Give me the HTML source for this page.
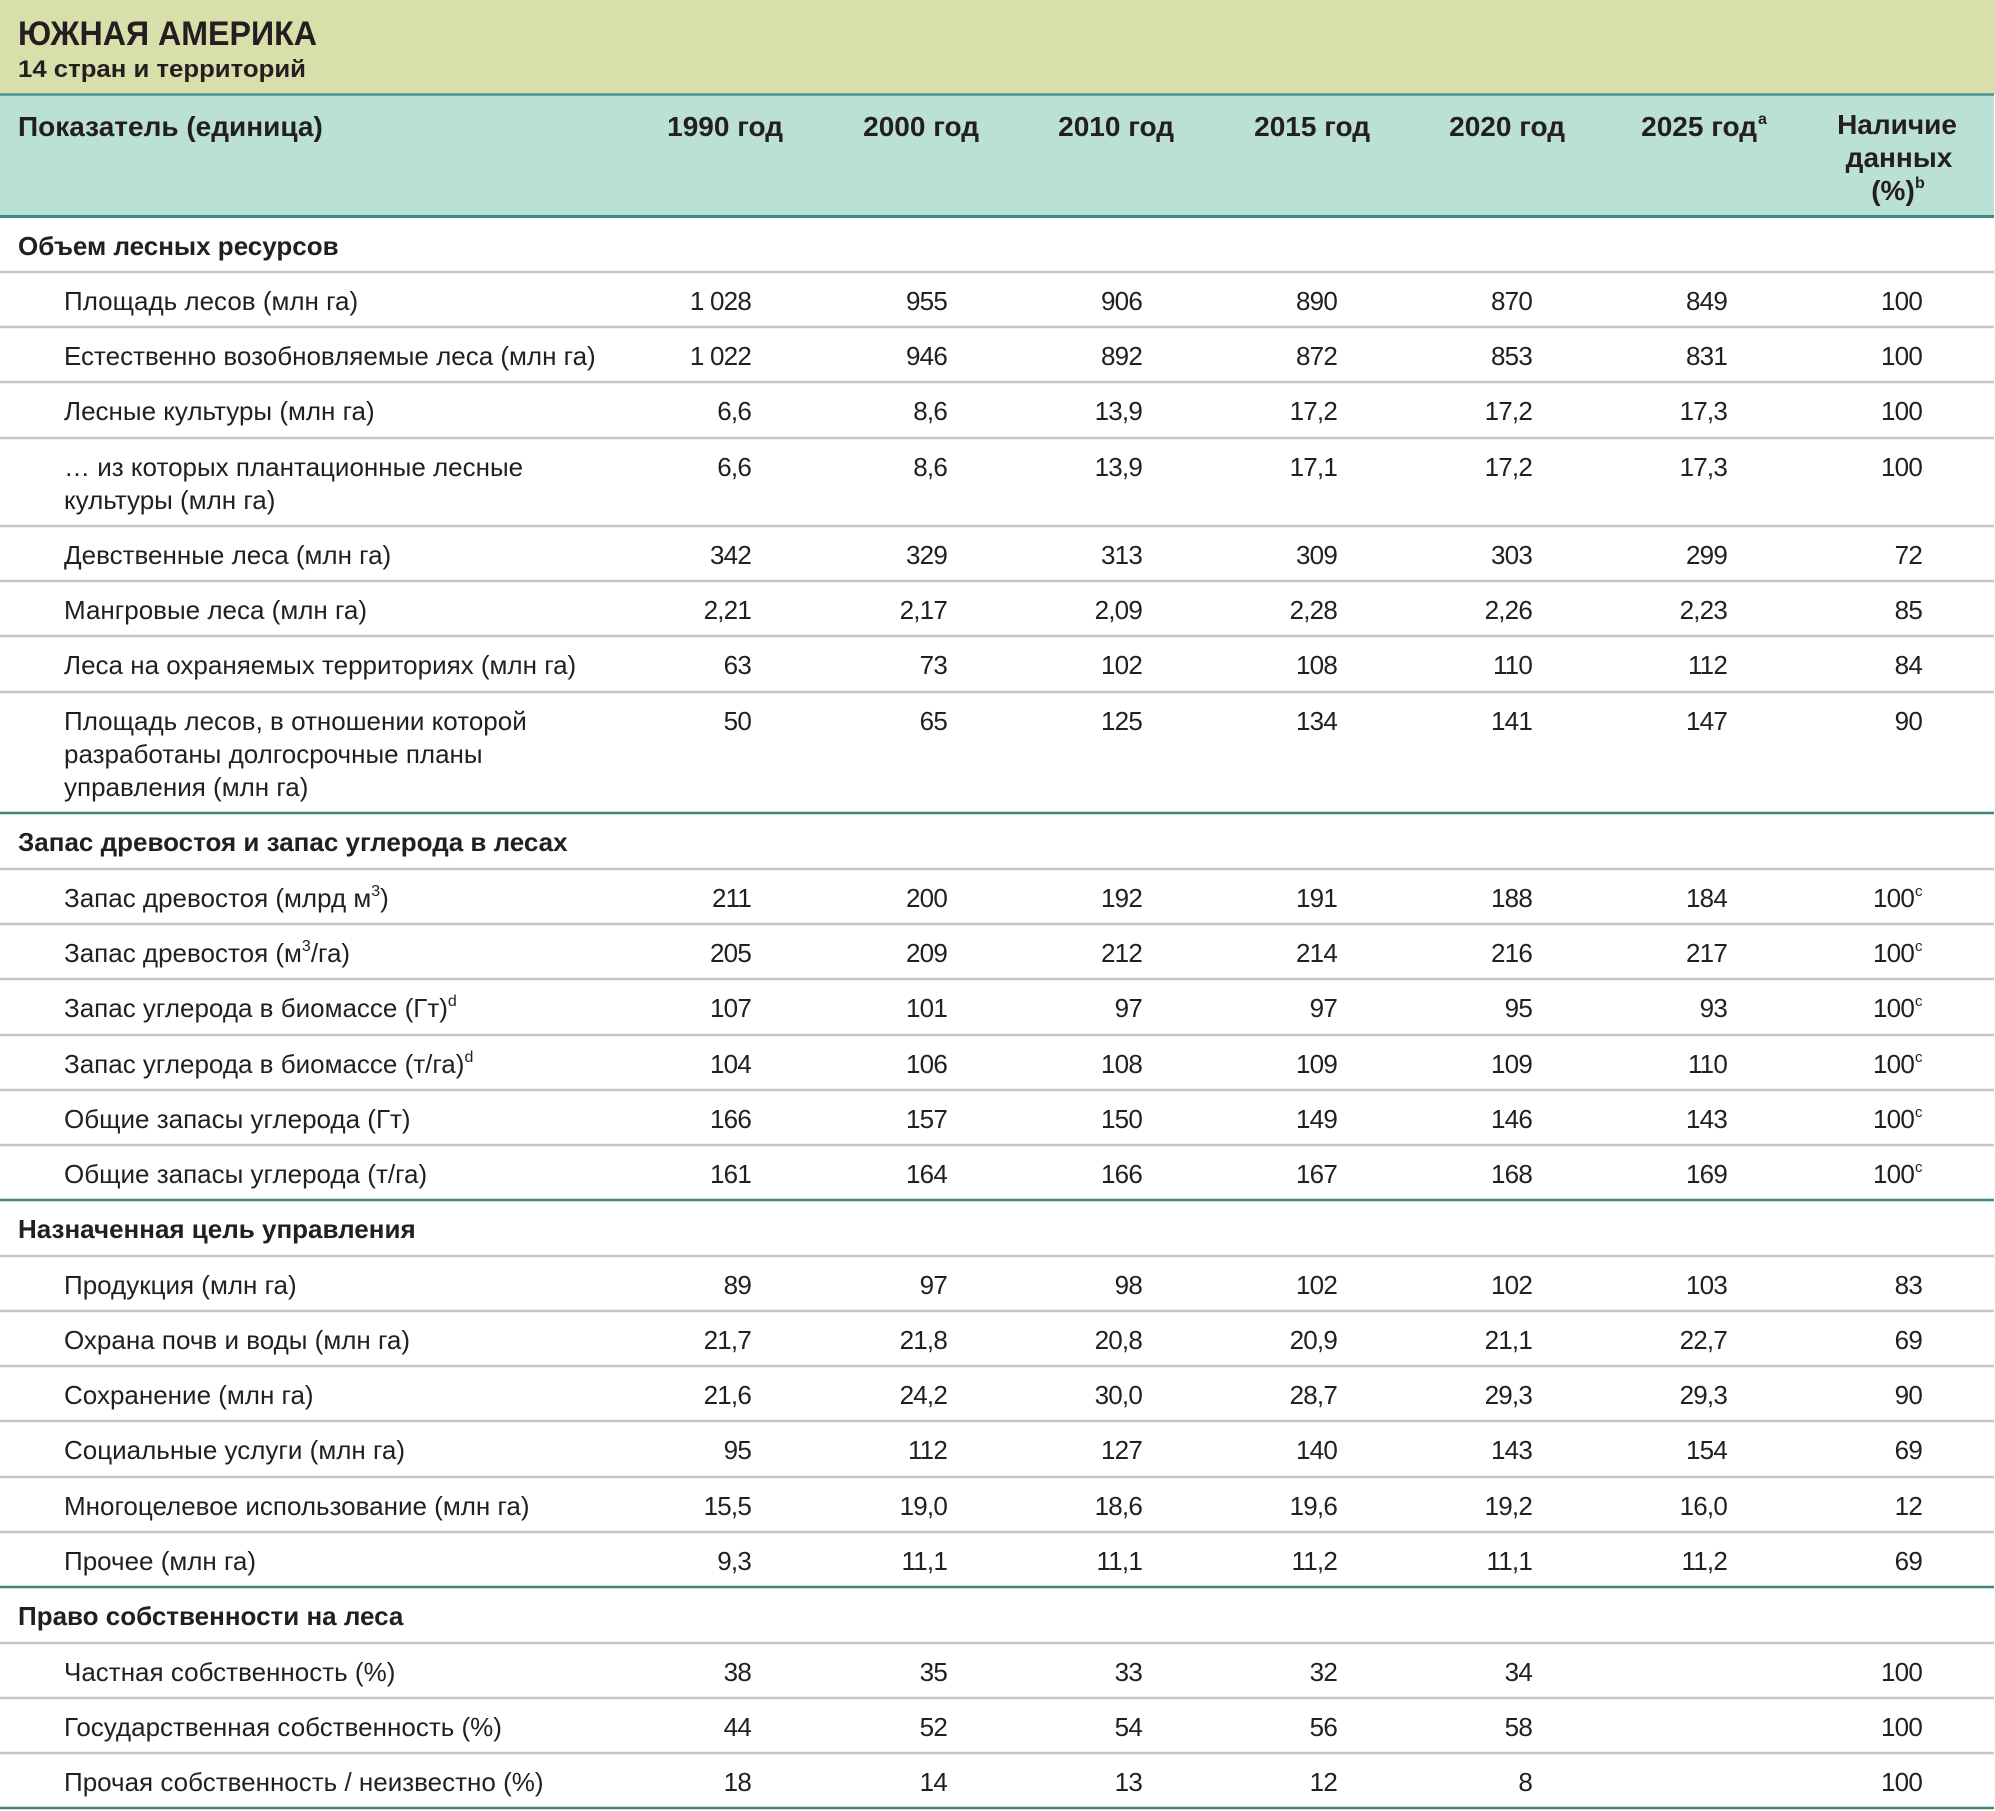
<!DOCTYPE html>
<html><head><meta charset="utf-8"><style>
html,body{margin:0;padding:0;background:#fff;}
svg{display:block;}
text{font-family:"Liberation Sans","DejaVu Sans",sans-serif;fill:#231f20;}
.l{font-size:26px;}
.n{font-size:26px;text-anchor:end;letter-spacing:-0.8px;}
.s{font-size:26px;font-weight:bold;}
.h{font-size:28px;font-weight:bold;}
.he{font-size:28px;font-weight:bold;text-anchor:end;}
.hc{font-size:28px;font-weight:bold;text-anchor:middle;}
.g{stroke:#c6c6c6;stroke-width:2.5;}
.t{stroke:#3f8579;stroke-width:2.5;}
</style></head><body>
<svg width="1995" height="1811" viewBox="0 0 1995 1811" xmlns="http://www.w3.org/2000/svg">
<rect x="0" y="0" width="1995" height="94" fill="#d8dfaa"/>
<rect x="0" y="94" width="1994" height="122" fill="#bbe0d5"/>
<line x1="0" y1="94.5" x2="1994" y2="94.5" stroke="#4a8f98" stroke-width="2.5"/>
<line x1="0" y1="216.5" x2="1994" y2="216.5" stroke="#3f8a80" stroke-width="3"/>
<text x="18" y="45" font-size="34" font-weight="bold" textLength="299" lengthAdjust="spacingAndGlyphs">ЮЖНАЯ АМЕРИКА</text>
<text x="18" y="77" font-size="24" font-weight="bold" textLength="288" lengthAdjust="spacingAndGlyphs">14 стран и территорий</text>
<text class="h" x="18" y="136">Показатель (единица)</text>
<text class="he" x="783" y="136">1990 год</text>
<text class="he" x="979" y="136">2000 год</text>
<text class="he" x="1174" y="136">2010 год</text>
<text class="he" x="1370" y="136">2015 год</text>
<text class="he" x="1565" y="136">2020 год</text>
<text class="he" x="1757" y="136">2025 год</text>
<text x="1758" y="124" font-size="16" font-weight="bold">a</text>
<text class="hc" x="1897" y="134">Наличие</text>
<text class="hc" x="1899" y="167">данных</text>
<text class="hc" x="1893" y="200">(%)</text>
<text x="1915" y="188" font-size="16" font-weight="bold">b</text>

<!-- lines -->
<g>
<line class="g" x1="0" y1="272" x2="1994" y2="272"/>
<line class="g" x1="0" y1="327" x2="1994" y2="327"/>
<line class="g" x1="0" y1="382" x2="1994" y2="382"/>
<line class="g" x1="0" y1="438" x2="1994" y2="438"/>
<line class="g" x1="0" y1="526" x2="1994" y2="526"/>
<line class="g" x1="0" y1="581" x2="1994" y2="581"/>
<line class="g" x1="0" y1="636" x2="1994" y2="636"/>
<line class="g" x1="0" y1="692" x2="1994" y2="692"/>
<line class="t" x1="0" y1="813" x2="1994" y2="813"/>
<line class="g" x1="0" y1="869" x2="1994" y2="869"/>
<line class="g" x1="0" y1="924" x2="1994" y2="924"/>
<line class="g" x1="0" y1="979" x2="1994" y2="979"/>
<line class="g" x1="0" y1="1035" x2="1994" y2="1035"/>
<line class="g" x1="0" y1="1090" x2="1994" y2="1090"/>
<line class="g" x1="0" y1="1145" x2="1994" y2="1145"/>
<line class="t" x1="0" y1="1200" x2="1994" y2="1200"/>
<line class="g" x1="0" y1="1256" x2="1994" y2="1256"/>
<line class="g" x1="0" y1="1311" x2="1994" y2="1311"/>
<line class="g" x1="0" y1="1366" x2="1994" y2="1366"/>
<line class="g" x1="0" y1="1421" x2="1994" y2="1421"/>
<line class="g" x1="0" y1="1477" x2="1994" y2="1477"/>
<line class="g" x1="0" y1="1532" x2="1994" y2="1532"/>
<line class="t" x1="0" y1="1587" x2="1994" y2="1587"/>
<line class="g" x1="0" y1="1643" x2="1994" y2="1643"/>
<line class="g" x1="0" y1="1698" x2="1994" y2="1698"/>
<line class="g" x1="0" y1="1753" x2="1994" y2="1753"/>
<line class="t" x1="0" y1="1808" x2="1994" y2="1808"/>
</g>

<!-- Section 1 -->
<text class="s" x="18" y="255">Объем лесных ресурсов</text>

<text class="l" x="64" y="310">Площадь лесов (млн га)</text>
<text class="n" x="751" y="310">1 028</text><text class="n" x="947" y="310">955</text><text class="n" x="1142" y="310">906</text><text class="n" x="1337" y="310">890</text><text class="n" x="1532" y="310">870</text><text class="n" x="1727" y="310">849</text><text class="n" x="1922" y="310">100</text>

<text class="l" x="64" y="365">Естественно возобновляемые леса (млн га)</text>
<text class="n" x="751" y="365">1 022</text><text class="n" x="947" y="365">946</text><text class="n" x="1142" y="365">892</text><text class="n" x="1337" y="365">872</text><text class="n" x="1532" y="365">853</text><text class="n" x="1727" y="365">831</text><text class="n" x="1922" y="365">100</text>

<text class="l" x="64" y="420">Лесные культуры (млн га)</text>
<text class="n" x="751" y="420">6,6</text><text class="n" x="947" y="420">8,6</text><text class="n" x="1142" y="420">13,9</text><text class="n" x="1337" y="420">17,2</text><text class="n" x="1532" y="420">17,2</text><text class="n" x="1727" y="420">17,3</text><text class="n" x="1922" y="420">100</text>

<text class="l" x="64" y="476">… из которых плантационные лесные</text>
<text class="l" x="64" y="509">культуры (млн га)</text>
<text class="n" x="751" y="476">6,6</text><text class="n" x="947" y="476">8,6</text><text class="n" x="1142" y="476">13,9</text><text class="n" x="1337" y="476">17,1</text><text class="n" x="1532" y="476">17,2</text><text class="n" x="1727" y="476">17,3</text><text class="n" x="1922" y="476">100</text>

<text class="l" x="64" y="564">Девственные леса (млн га)</text>
<text class="n" x="751" y="564">342</text><text class="n" x="947" y="564">329</text><text class="n" x="1142" y="564">313</text><text class="n" x="1337" y="564">309</text><text class="n" x="1532" y="564">303</text><text class="n" x="1727" y="564">299</text><text class="n" x="1922" y="564">72</text>

<text class="l" x="64" y="619">Мангровые леса (млн га)</text>
<text class="n" x="751" y="619">2,21</text><text class="n" x="947" y="619">2,17</text><text class="n" x="1142" y="619">2,09</text><text class="n" x="1337" y="619">2,28</text><text class="n" x="1532" y="619">2,26</text><text class="n" x="1727" y="619">2,23</text><text class="n" x="1922" y="619">85</text>

<text class="l" x="64" y="674">Леса на охраняемых территориях (млн га)</text>
<text class="n" x="751" y="674">63</text><text class="n" x="947" y="674">73</text><text class="n" x="1142" y="674">102</text><text class="n" x="1337" y="674">108</text><text class="n" x="1532" y="674">110</text><text class="n" x="1727" y="674">112</text><text class="n" x="1922" y="674">84</text>

<text class="l" x="64" y="730">Площадь лесов, в отношении которой</text>
<text class="l" x="64" y="763">разработаны долгосрочные планы</text>
<text class="l" x="64" y="796">управления (млн га)</text>
<text class="n" x="751" y="730">50</text><text class="n" x="947" y="730">65</text><text class="n" x="1142" y="730">125</text><text class="n" x="1337" y="730">134</text><text class="n" x="1532" y="730">141</text><text class="n" x="1727" y="730">147</text><text class="n" x="1922" y="730">90</text>

<!-- Section 2 -->
<text class="s" x="18" y="851">Запас древостоя и запас углерода в лесах</text>

<text class="l" x="64" y="907">Запас древостоя (млрд м<tspan font-size="16" dy="-11">3</tspan><tspan dy="11">)</tspan></text>
<text class="n" x="751" y="907">211</text><text class="n" x="947" y="907">200</text><text class="n" x="1142" y="907">192</text><text class="n" x="1337" y="907">191</text><text class="n" x="1532" y="907">188</text><text class="n" x="1727" y="907">184</text><text class="n" x="1914" y="907">100</text><text x="1915" y="896" font-size="15">c</text>

<text class="l" x="64" y="962">Запас древостоя (м<tspan font-size="16" dy="-11">3</tspan><tspan dy="11">/га)</tspan></text>
<text class="n" x="751" y="962">205</text><text class="n" x="947" y="962">209</text><text class="n" x="1142" y="962">212</text><text class="n" x="1337" y="962">214</text><text class="n" x="1532" y="962">216</text><text class="n" x="1727" y="962">217</text><text class="n" x="1914" y="962">100</text><text x="1915" y="951" font-size="15">c</text>

<text class="l" x="64" y="1017">Запас углерода в биомассе (Гт)<tspan font-size="16" dy="-11">d</tspan></text>
<text class="n" x="751" y="1017">107</text><text class="n" x="947" y="1017">101</text><text class="n" x="1142" y="1017">97</text><text class="n" x="1337" y="1017">97</text><text class="n" x="1532" y="1017">95</text><text class="n" x="1727" y="1017">93</text><text class="n" x="1914" y="1017">100</text><text x="1915" y="1006" font-size="15">c</text>

<text class="l" x="64" y="1073">Запас углерода в биомассе (т/га)<tspan font-size="16" dy="-11">d</tspan></text>
<text class="n" x="751" y="1073">104</text><text class="n" x="947" y="1073">106</text><text class="n" x="1142" y="1073">108</text><text class="n" x="1337" y="1073">109</text><text class="n" x="1532" y="1073">109</text><text class="n" x="1727" y="1073">110</text><text class="n" x="1914" y="1073">100</text><text x="1915" y="1062" font-size="15">c</text>

<text class="l" x="64" y="1128">Общие запасы углерода (Гт)</text>
<text class="n" x="751" y="1128">166</text><text class="n" x="947" y="1128">157</text><text class="n" x="1142" y="1128">150</text><text class="n" x="1337" y="1128">149</text><text class="n" x="1532" y="1128">146</text><text class="n" x="1727" y="1128">143</text><text class="n" x="1914" y="1128">100</text><text x="1915" y="1117" font-size="15">c</text>

<text class="l" x="64" y="1183">Общие запасы углерода (т/га)</text>
<text class="n" x="751" y="1183">161</text><text class="n" x="947" y="1183">164</text><text class="n" x="1142" y="1183">166</text><text class="n" x="1337" y="1183">167</text><text class="n" x="1532" y="1183">168</text><text class="n" x="1727" y="1183">169</text><text class="n" x="1914" y="1183">100</text><text x="1915" y="1172" font-size="15">c</text>

<!-- Section 3 -->
<text class="s" x="18" y="1238">Назначенная цель управления</text>

<text class="l" x="64" y="1294">Продукция (млн га)</text>
<text class="n" x="751" y="1294">89</text><text class="n" x="947" y="1294">97</text><text class="n" x="1142" y="1294">98</text><text class="n" x="1337" y="1294">102</text><text class="n" x="1532" y="1294">102</text><text class="n" x="1727" y="1294">103</text><text class="n" x="1922" y="1294">83</text>

<text class="l" x="64" y="1349">Охрана почв и воды (млн га)</text>
<text class="n" x="751" y="1349">21,7</text><text class="n" x="947" y="1349">21,8</text><text class="n" x="1142" y="1349">20,8</text><text class="n" x="1337" y="1349">20,9</text><text class="n" x="1532" y="1349">21,1</text><text class="n" x="1727" y="1349">22,7</text><text class="n" x="1922" y="1349">69</text>

<text class="l" x="64" y="1404">Сохранение (млн га)</text>
<text class="n" x="751" y="1404">21,6</text><text class="n" x="947" y="1404">24,2</text><text class="n" x="1142" y="1404">30,0</text><text class="n" x="1337" y="1404">28,7</text><text class="n" x="1532" y="1404">29,3</text><text class="n" x="1727" y="1404">29,3</text><text class="n" x="1922" y="1404">90</text>

<text class="l" x="64" y="1459">Социальные услуги (млн га)</text>
<text class="n" x="751" y="1459">95</text><text class="n" x="947" y="1459">112</text><text class="n" x="1142" y="1459">127</text><text class="n" x="1337" y="1459">140</text><text class="n" x="1532" y="1459">143</text><text class="n" x="1727" y="1459">154</text><text class="n" x="1922" y="1459">69</text>

<text class="l" x="64" y="1515">Многоцелевое использование (млн га)</text>
<text class="n" x="751" y="1515">15,5</text><text class="n" x="947" y="1515">19,0</text><text class="n" x="1142" y="1515">18,6</text><text class="n" x="1337" y="1515">19,6</text><text class="n" x="1532" y="1515">19,2</text><text class="n" x="1727" y="1515">16,0</text><text class="n" x="1922" y="1515">12</text>

<text class="l" x="64" y="1570">Прочее (млн га)</text>
<text class="n" x="751" y="1570">9,3</text><text class="n" x="947" y="1570">11,1</text><text class="n" x="1142" y="1570">11,1</text><text class="n" x="1337" y="1570">11,2</text><text class="n" x="1532" y="1570">11,1</text><text class="n" x="1727" y="1570">11,2</text><text class="n" x="1922" y="1570">69</text>

<!-- Section 4 -->
<text class="s" x="18" y="1625">Право собственности на леса</text>

<text class="l" x="64" y="1681">Частная собственность (%)</text>
<text class="n" x="751" y="1681">38</text><text class="n" x="947" y="1681">35</text><text class="n" x="1142" y="1681">33</text><text class="n" x="1337" y="1681">32</text><text class="n" x="1532" y="1681">34</text><text class="n" x="1922" y="1681">100</text>

<text class="l" x="64" y="1736">Государственная собственность (%)</text>
<text class="n" x="751" y="1736">44</text><text class="n" x="947" y="1736">52</text><text class="n" x="1142" y="1736">54</text><text class="n" x="1337" y="1736">56</text><text class="n" x="1532" y="1736">58</text><text class="n" x="1922" y="1736">100</text>

<text class="l" x="64" y="1791">Прочая собственность / неизвестно (%)</text>
<text class="n" x="751" y="1791">18</text><text class="n" x="947" y="1791">14</text><text class="n" x="1142" y="1791">13</text><text class="n" x="1337" y="1791">12</text><text class="n" x="1532" y="1791">8</text><text class="n" x="1922" y="1791">100</text>
</svg>
</body></html>
